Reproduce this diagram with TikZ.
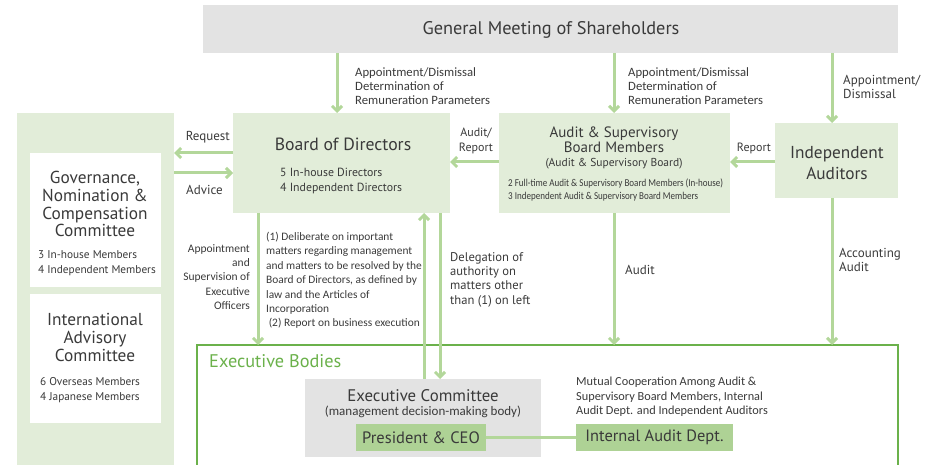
\documentclass[tikz,border=0pt]{standalone}
\usepackage{fontspec}
\setmainfont{PT Sans}
\newfontfamily\cond{Carlito}
\newfontfamily\condx[FakeStretch=0.86]{Carlito}
\usetikzlibrary{arrows.meta}
\definecolor{txt}{HTML}{3A3A3A}
\definecolor{graybox}{HTML}{E3E3E3}
\definecolor{lightg}{HTML}{E2EDD9}
\definecolor{arrg}{HTML}{B3D79A}
\definecolor{midg}{HTML}{AED295}
\definecolor{frameg}{HTML}{6BB14B}
\begin{document}
\begin{tikzpicture}[x=1pt,y=-1pt,
  every node/.style={text=txt,inner sep=0pt},
  box/.style={anchor=north west,inner sep=0pt,outer sep=0pt},
  arr/.style={draw=arrg,line width=3pt,-{Straight Barb[length=5pt,width=10pt]}},
  lbl/.style={font=\cond\fontsize{11.5}{14.5}\selectfont,align=left,anchor=north west},
  lbls/.style={font=\fontsize{13}{14.5}\selectfont,align=left,anchor=north west},
  mem/.style={font=\fontsize{11.3}{15}\selectfont,align=left,anchor=north west},
  big/.style={font=\fontsize{17.3}{17.8}\selectfont,align=center}
]
\useasboundingbox (0,0) rectangle (932,465);
% boxes
\node (sh) [box,fill=graybox,minimum width=695pt,minimum height=48pt] at (203,5) {};
\node (shT) [font=\fontsize{18.3}{20}\selectfont] at (551,30) {General Meeting of Shareholders};
\node (left) [box,fill=lightg,minimum width=157pt,minimum height=360pt] at (17,113) {};
\node (gov) [box,fill=white,minimum width=131pt,minimum height=134pt] at (30,153) {};
\node (iac) [box,fill=white,minimum width=131pt,minimum height=129pt] at (30,294) {};
\node (bod) [box,fill=lightg,minimum width=217pt,minimum height=100pt] at (233,113) {};
\node (asb) [box,fill=lightg,minimum width=231pt,minimum height=100pt] at (499,113) {};
\node (ia) [box,fill=lightg,minimum width=123pt,minimum height=75pt] at (775,123) {};
\node (exb) [box,draw=frameg,line width=2pt,minimum width=701pt,minimum height=130pt] at (197,345) {};
\node (exc) [box,fill=graybox,minimum width=236pt,minimum height=78pt] at (305,379) {};
\node (pres) [box,fill=midg,minimum width=130pt,minimum height=27pt] at (356,424) {};
\node (iad) [box,fill=midg,minimum width=157pt,minimum height=27pt] at (576,424) {};
% box texts
\node (govT) [big,anchor=north] at (95,171) {Governance,\\Nomination \&\\Compensation\\Committee};
\node (govM) [mem] at (38,250) {3 In-house Members\\4 Independent Members};
\node (iacT) [big,anchor=north] at (95,313) {International\\Advisory\\Committee};
\node (iacM) [mem] at (40,377) {6 Overseas Members\\4 Japanese Members};
\node (bodT) [font=\fontsize{17.7}{18}\selectfont] at (343,144) {Board of Directors};
\node (bodM) [mem,font=\fontsize{11.8}{15}\selectfont] at (280,168) {5 In-house Directors\\4 Independent Directors};
\node (asbT) [font=\fontsize{15}{15}\selectfont,align=center,anchor=north] at (614,127) {Audit \& Supervisory\\Board Members};
\node (asbS) [font=\fontsize{11.5}{12}\selectfont] at (614,164) {(Audit \& Supervisory Board)};
\node (asbM) [font=\condx\fontsize{10.5}{13}\selectfont,align=left,anchor=north west] at (508,179) {2 Full-time Audit \& Supervisory Board Members (In-house)\\3 Independent Audit \& Supervisory Board Members};
\node (iaT) [font=\fontsize{17.3}{21}\selectfont,align=center] at (837,163) {Independent\\Auditors};
\node (exbT) [font=\fontsize{18.3}{20}\selectfont,text=frameg,anchor=west] at (209,361) {Executive Bodies};
\node (excT) [font=\fontsize{16.8}{17}\selectfont] at (423,396) {Executive Committee};
\node (excS) [font=\cond\fontsize{13}{13}\selectfont] at (423,412) {(management decision-making body)};
\node (presT) [font=\fontsize{16.5}{17}\selectfont] at (pres.center) {President \& CEO};
\node (iadT) [font=\fontsize{16.4}{17}\selectfont] at (iad.center) {Internal Audit Dept.};
\node (mut) [font=\cond\fontsize{12.3}{14.5}\selectfont,align=left,anchor=north west] at (576,377) {Mutual Cooperation Among Audit \&\\Supervisory Board Members, Internal\\Audit Dept. and Independent Auditors};
% arrows from shareholders
\draw[arr] (337,0 |- sh.south) -- (337,0 |- bod.north);
\draw[arr] (614,0 |- sh.south) -- (614,0 |- asb.north);
\draw[arr] (832,0 |- sh.south) -- (832,0 |- ia.north);
\node (l1) [lbl,font=\cond\fontsize{12.7}{14.3}\selectfont] at (355,67) {Appointment/Dismissal\\Determination of\\Remuneration Parameters};
\node (l2) [lbl,font=\cond\fontsize{12.7}{14.3}\selectfont] at (628,67) {Appointment/Dismissal\\Determination of\\Remuneration Parameters};
\node (l3) [lbls] at (843,75) {Appointment/\\Dismissal};
% horizontal arrows
\draw[arr] (bod.west |- 0,153) -- (left.east |- 0,153);
\draw[arr] (left.east |- 0,173) -- (bod.west |- 0,173);
\node (req) [lbls,anchor=east] at (230,137) {Request};
\node (adv) [lbls,anchor=west] at (186,190) {Advice};
\draw[arr] (asb.west |- 0,162) -- (bod.east |- 0,162);
\node (aurep) [font=\fontsize{12}{14.5}\selectfont,align=center] at (476,141) {Audit/\\Report};
\draw[arr] (ia.west |- 0,162) -- (asb.east |- 0,162);
\node (rep) [font=\fontsize{12}{14}\selectfont] at (754,148) {Report};
% vertical arrows to executive bodies
\draw[arr] (258,0 |- bod.south) -- (258,0 |- exb.north);
\node (appl) [font=\cond\fontsize{11.5}{14.4}\selectfont,align=right,anchor=north east] at (250,244) {Appointment\\and\\Supervision of\\Executive\\Officers};
\draw[arr] (424,0 |- exc.north) -- (424,0 |- bod.south);
\draw[arr] (440,0 |- bod.south) -- (440,0 |- exc.north);
\node (delib) [lbl,font=\cond\fontsize{11.4}{14.4}\selectfont] at (266,232) {(1) Deliberate on important\\matters regarding management\\and matters to be resolved by the\\Board of Directors, as defined by\\law and the Articles of\\Incorporation\\\ (2) Report on business execution};
\node (deleg) [lbls,font=\fontsize{12.6}{14.4}\selectfont] at (450,252) {Delegation of\\authority on\\matters other\\than (1) on left};
\draw[arr] (614,0 |- asb.south) -- (614,0 |- exb.north);
\node (aud) [lbls] at (625,265) {Audit};
\draw[arr] (832,0 |- ia.south) -- (832,0 |- exb.north);
\node (acc) [lbls] at (839,248) {Accounting\\Audit};
% cooperation line
\draw[draw=arrg,line width=3pt] (pres.east) -- (iad.west);
\end{tikzpicture}
\end{document}
